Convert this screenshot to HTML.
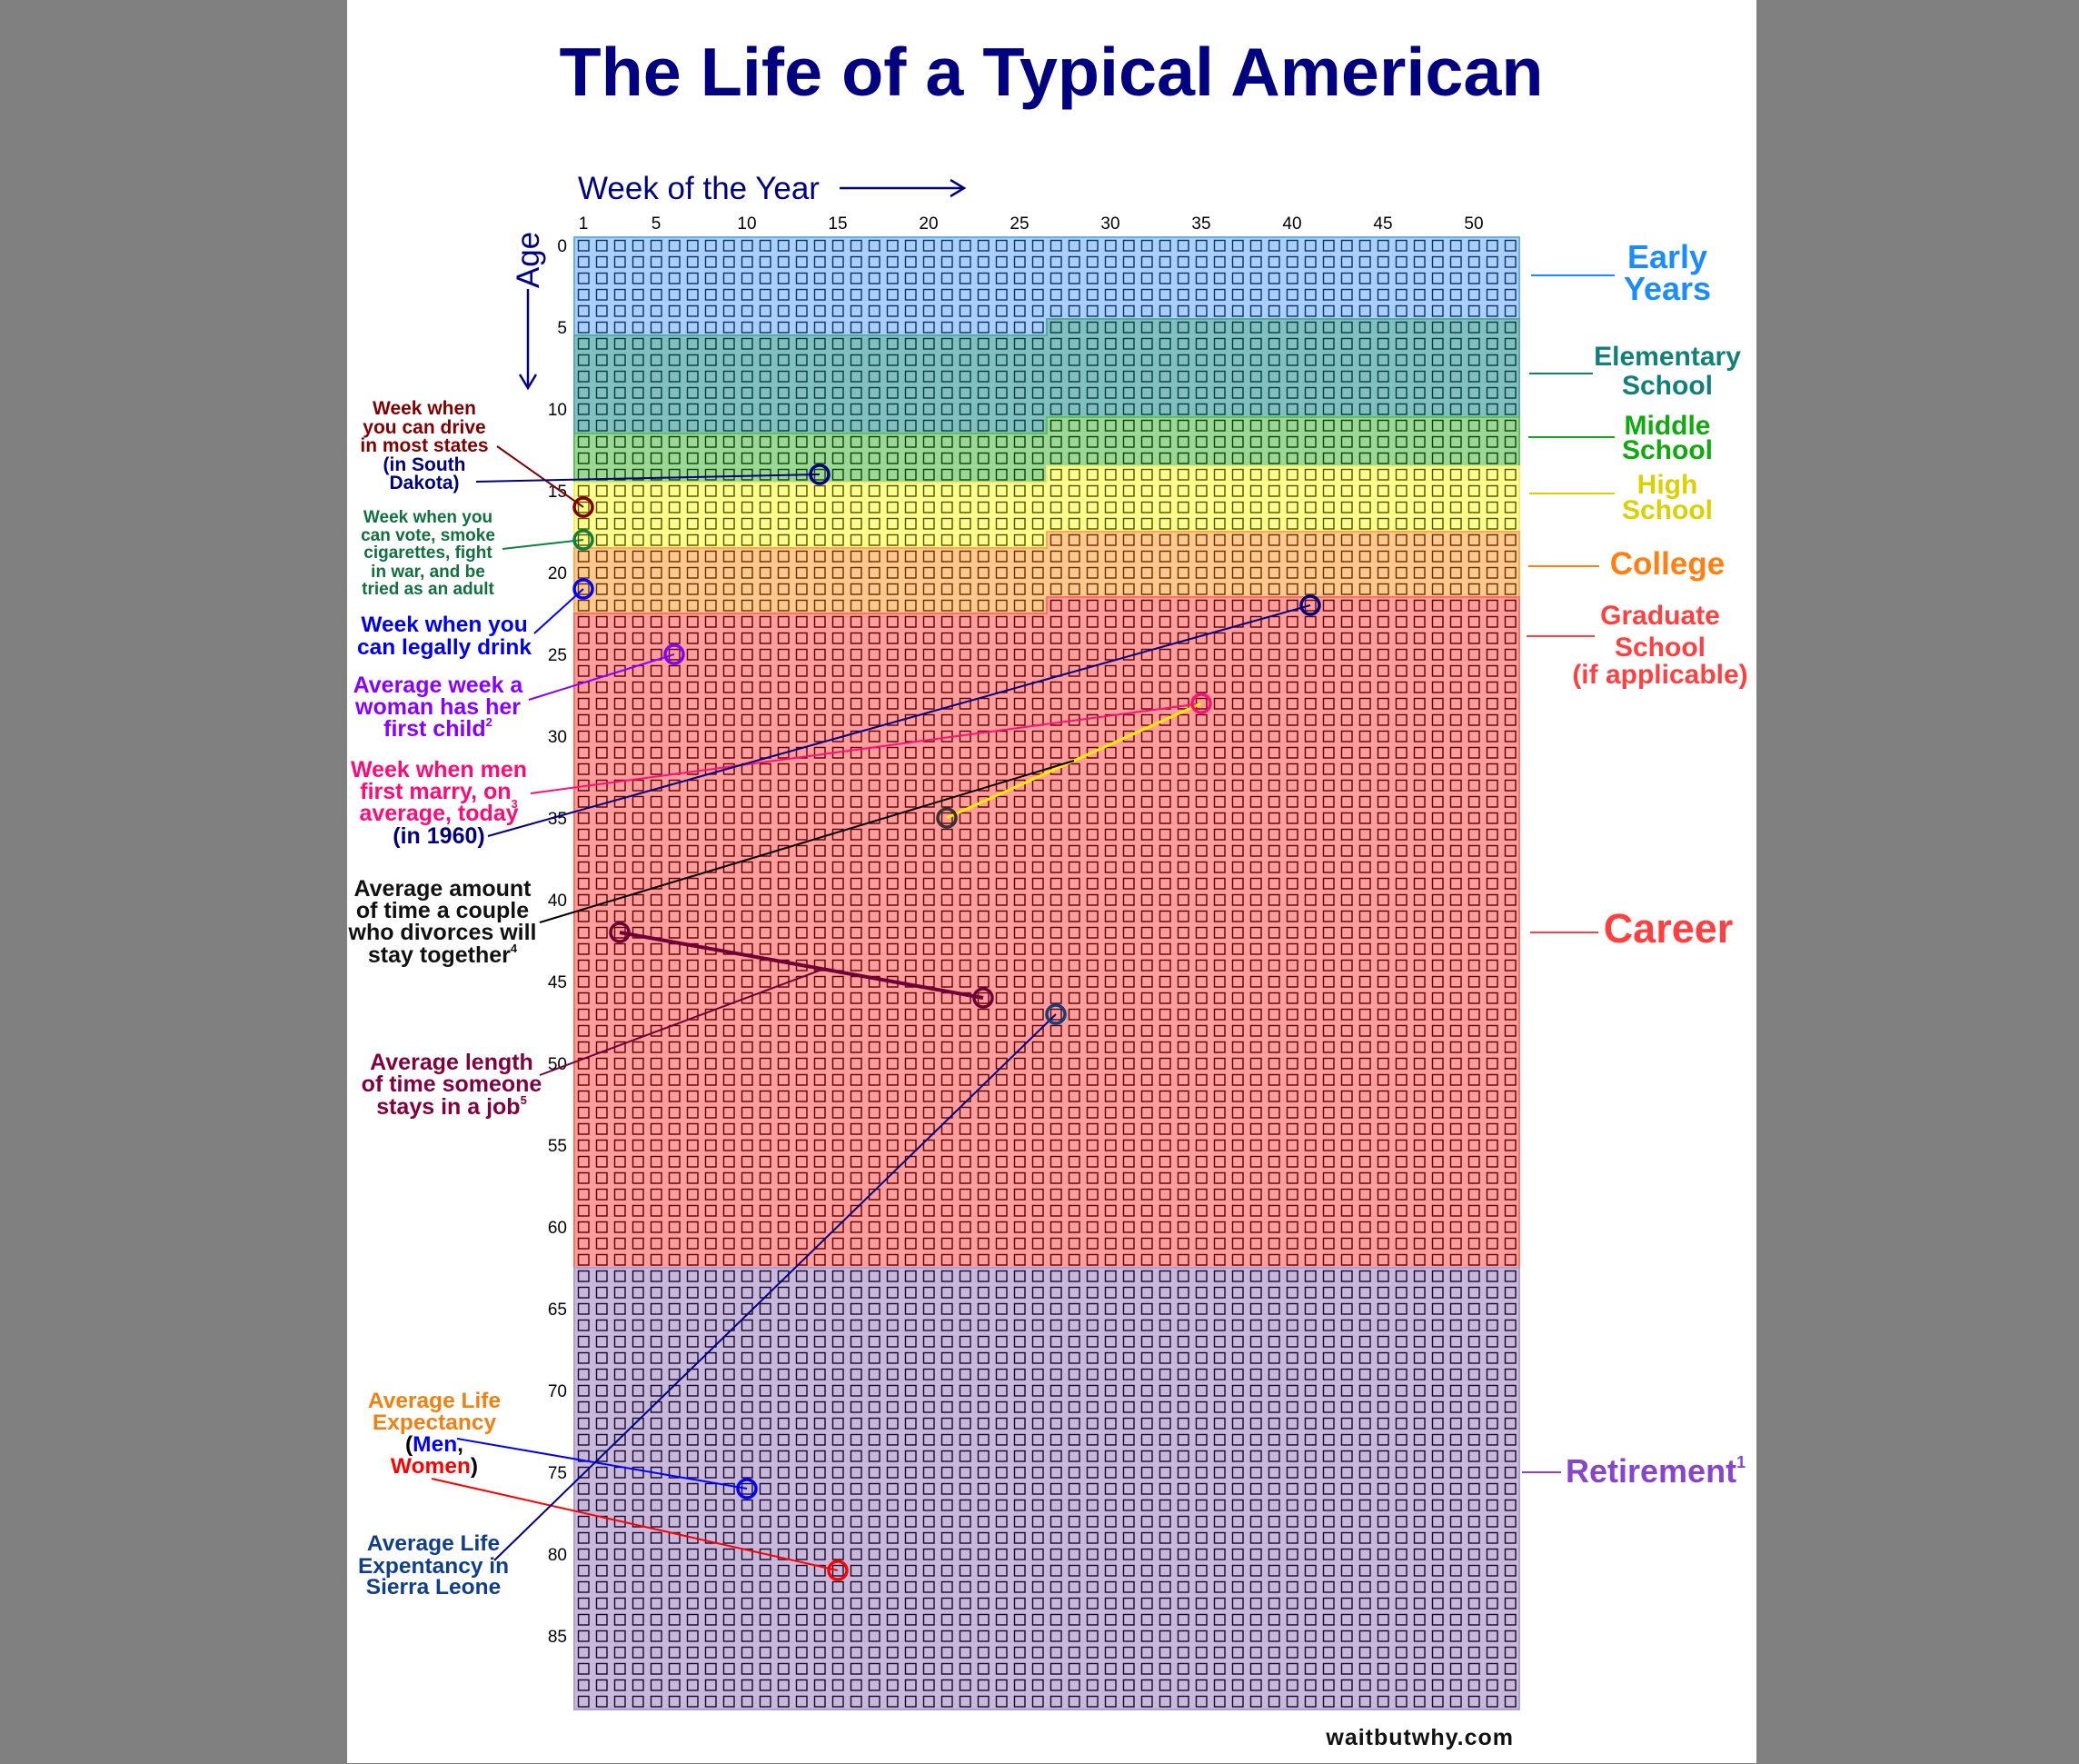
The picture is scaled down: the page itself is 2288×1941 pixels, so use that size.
<!DOCTYPE html>
<html><head><meta charset="utf-8"><style>
html,body{margin:0;padding:0;background:#808080;}
svg{display:block;font-family:"Liberation Sans",sans-serif;}
.b{font-weight:bold;}
</style></head><body>
<svg id="chart" width="2288" height="1941" viewBox="0 0 2288 1941" xmlns="http://www.w3.org/2000/svg">
<rect x="0" y="0" width="2288" height="1941" fill="#808080"/>
<rect x="382" y="0" width="1551" height="1940" fill="#ffffff"/>
<text x="1157" y="105" text-anchor="middle" class="b" font-size="75" fill="#000080" textLength="1083" lengthAdjust="spacingAndGlyphs">The Life of a Typical American</text>
<text x="636" y="219" font-size="35" fill="#000080">Week of the Year</text>
<g stroke="#000080" stroke-width="2.5" fill="none"><line x1="924" y1="207" x2="1060" y2="207"/><polyline points="1046,198 1061,207 1046,216"/></g>
<text transform="translate(593,286) rotate(-90)" text-anchor="middle" font-size="35" fill="#000080">Age</text>
<g stroke="#000080" stroke-width="2.5" fill="none"><line x1="581" y1="318" x2="581" y2="426"/><polyline points="572,412 581,427 590,412"/></g>
<defs id="defs"></defs>
<g id="bands"></g>
<g id="ticks"></g>
<g id="annot-lines" fill="none"></g>
<g id="markers" fill="none" stroke-width="3.5"></g>
<g id="labels" class="b">
 <g font-size="21" text-anchor="middle" fill="#800000">
  <text x="467" y="456">Week when</text><text x="467" y="477">you can drive</text><text x="467" y="497">in most states</text>
  <text x="467" y="518" fill="#000080">(in South</text><text x="467" y="538" fill="#000080">Dakota)</text></g>
 <g font-size="19" text-anchor="middle" fill="#107040">
  <text x="471" y="575">Week when you</text><text x="471" y="595">can vote, smoke</text><text x="471" y="614">cigarettes, fight</text><text x="471" y="635">in war, and be</text><text x="471" y="654">tried as an adult</text></g>
 <g font-size="24.5" text-anchor="middle" fill="#0000ee">
  <text x="489" y="695">Week when you</text><text x="489" y="720">can legally drink</text></g>
 <g font-size="25" text-anchor="middle" fill="#8800ff">
  <text x="482" y="762">Average week a</text><text x="482" y="786">woman has her</text><text x="482" y="810">first child<tspan font-size="13" dy="-11">2</tspan></text></g>
 <g font-size="25" text-anchor="middle" fill="#ff0a78">
  <text x="483" y="855">Week when men</text><text x="483" y="879">first marry, on<tspan font-size="13" dy="10">3</tspan></text><text x="483" y="903">average, today</text>
  <text x="483" y="928" fill="#000080">(in 1960)</text></g>
 <g font-size="25" text-anchor="middle" fill="#111">
  <text x="487" y="986">Average amount</text><text x="487" y="1010">of time a couple</text><text x="487" y="1034">who divorces will</text><text x="487" y="1059">stay together<tspan font-size="13" dy="-11">4</tspan></text></g>
 <g font-size="25" text-anchor="middle" fill="#800040">
  <text x="497" y="1177">Average length</text><text x="497" y="1201">of time someone</text><text x="497" y="1226">stays in a job<tspan font-size="13" dy="-11">5</tspan></text></g>
 <g font-size="24.5" text-anchor="middle" fill="#f08010">
  <text x="478" y="1549">Average Life</text><text x="478" y="1573">Expectancy</text>
  <text x="478" y="1597" fill="#000">(<tspan fill="#0000ff">Men</tspan>,</text>
  <text x="478" y="1621" fill="#000"><tspan fill="#ff0000">Women</tspan>)</text></g>
 <g font-size="24.5" text-anchor="middle" fill="#0f3f8a">
  <text x="477" y="1706">Average Life</text><text x="477" y="1731">Expentancy in</text><text x="477" y="1754">Sierra Leone</text></g>
 <g text-anchor="middle">
  <text x="1835" y="295" font-size="36" fill="#1a8cff">Early</text><text x="1835" y="330" font-size="36" fill="#1a8cff">Years</text>
  <text x="1835" y="402" font-size="30" fill="#108078">Elementary</text><text x="1835" y="434" font-size="30" fill="#108078">School</text>
  <text x="1835" y="478" font-size="30" fill="#10aa10">Middle</text><text x="1835" y="505" font-size="30" fill="#10aa10">School</text>
  <text x="1835" y="543" font-size="30" fill="#dcd000">High</text><text x="1835" y="571" font-size="30" fill="#dcd000">School</text>
  <text x="1835" y="632" font-size="35" fill="#ff8010">College</text>
  <text x="1827" y="687" font-size="30" fill="#ff4040">Graduate</text><text x="1827" y="722" font-size="30" fill="#ff4040">School</text><text x="1827" y="752" font-size="30" fill="#ff4040">(if applicable)</text>
  <text x="1836" y="1037" font-size="45" fill="#ff4040">Career</text>
  <text x="1723" y="1631" font-size="36" fill="#8844cc" text-anchor="start">Retirement<tspan font-size="18" dy="-16">1</tspan></text>
 </g>
 <g stroke-width="2">
  <line x1="1685" y1="303" x2="1777" y2="303" stroke="#1a8cff"/>
  <line x1="1683" y1="411" x2="1753" y2="411" stroke="#108078"/>
  <line x1="1682" y1="481" x2="1777" y2="481" stroke="#10aa10"/>
  <line x1="1683" y1="543" x2="1777" y2="543" stroke="#dcd000"/>
  <line x1="1682" y1="623" x2="1760" y2="623" stroke="#ff8010"/>
  <line x1="1680" y1="700" x2="1755" y2="700" stroke="#ff4040"/>
  <line x1="1684" y1="1026" x2="1759" y2="1026" stroke="#ff4040"/>
  <line x1="1675" y1="1620" x2="1718" y2="1620" stroke="#8844cc"/>
 </g>
 <text x="1666" y="1920" text-anchor="end" font-size="25" fill="#111" letter-spacing="1">waitbutwhy.com</text>
</g>
</svg>
<script>
// grid data
const bandNames = ['early-years','elementary-school','middle-school','high-school','college','career','retirement'];
const bandLeftStart = [0,6,12,15,19,23,63];   // weeks 1-26
const bandLeftEnd   = [5,11,14,18,22,62,89];
const bandRightStart= [0,5,11,14,18,22,63];   // weeks 27-52
const bandRightEnd  = [4,10,13,17,21,62,89];
const bandFill  = ['#a8d0ff','#80c0c0','#9cd894','#ffff8c','#ffc88c','#ff9c9c','#c8b8dc'];
const bandStroke= ['#10305a','#083a3a','#0a400a','#505000','#603000','#5a0000','#180828'];
const bandEdge  = ['#6ab0d8','#5aa8a8','#60c060','#f0f070','#ffaa50','#ff7060','#b0a0d0'];
const weekTicks = [1,5,10,15,20,25,30,35,40,45,50];
const ageTicks = [0,5,10,15,20,25,30,35,40,45,50,55,60,65,70,75,80,85];
const nWeeks = 52, nYears = 90, splitWeek = 27;

// markers
const markerNames = ['drive-marker','south-dakota-marker','vote-marker','drink-marker','first-child-marker','marry-today-marker','marry-1960-marker','divorce-start-marker','job-start-marker','job-end-marker','life-men-marker','life-women-marker','sierra-leone-marker'];
const markerWeek = [1,14,1,1,6,35,41,21,3,23,10,15,27];
const markerAge  = [16,14,18,21,25,28,22,35,42,46,76,81,47];
const markerColor= ['#800000','#000080','#108040','#0000ff','#8800ff','#ff1078','#000080','#333333','#700038','#700038','#0000ff','#ff0000','#104080'];

const NS='http://www.w3.org/2000/svg';
const gx0=632, gy0=261, cw=20, rh=18;
function xLeft(week){return gx0+(week-1)*cw;}
function xOf(week){return xLeft(week)+cw/2;}
function yTop(age){return gy0+age*rh;}
function yOf(age){return yTop(age)+rh/2;}
function mk(tag,attrs,parent){const e=document.createElementNS(NS,tag);for(const k in attrs)e.setAttribute(k,attrs[k]);parent.appendChild(e);return e;}

const defs=document.getElementById('defs');
const bands=document.getElementById('bands');
bandNames.forEach((n,i)=>{
  const p=mk('pattern',{id:'pat'+i,patternUnits:'userSpaceOnUse',x:gx0,y:gy0,width:cw,height:rh},defs);
  mk('rect',{x:0,y:0,width:cw,height:rh,fill:bandFill[i]},p);
  mk('rect',{x:4.5,y:3.5,width:11.5,height:11.5,fill:'none',stroke:bandStroke[i],'stroke-width':1.4},p);
  const g=mk('g',{},bands);
  
  
  const xl=xLeft(1), xm=xLeft(splitWeek), xr=xLeft(nWeeks+1);
  const yl0=yTop(bandLeftStart[i]), yl1=yTop(bandLeftEnd[i]+1);
  const yr0=yTop(bandRightStart[i]), yr1=yTop(bandRightEnd[i]+1);
  const pts=`${xl},${yl0} ${xm},${yl0} ${xm},${yr0} ${xr},${yr0} ${xr},${yr1} ${xm},${yr1} ${xm},${yl1} ${xl},${yl1}`;
  mk('polygon',{points:pts,fill:'url(#pat'+i+')',stroke:bandEdge[i],'stroke-width':2},g);
});
const ticks=document.getElementById('ticks');
weekTicks.forEach(w=>{
  const t=mk('text',{x:xOf(w),y:252,'text-anchor':'middle','font-size':19,fill:'#000'},ticks);
  
  
  t.textContent=w;
});
ageTicks.forEach(a=>{
  const t=mk('text',{x:624,y:yOf(a)+7,'text-anchor':'end','font-size':19,fill:'#000'},ticks);
  
  
  t.textContent=a;
});
function mp(i){return [xOf(markerWeek[i]),yOf(markerAge[i])];}
const lines=document.getElementById('annot-lines');
function L(name,x1,y1,p,color,w){
  const l=mk('line',{x1:x1,y1:y1,x2:p[0],y2:p[1],stroke:color,'stroke-width':w||2},lines);
  
  
}
function lerp(a,b,t){return [a[0]+(b[0]-a[0])*t,a[1]+(b[1]-a[1])*t];}
L('drive-leader',547,491,mp(0),'#800000');
L('south-dakota-leader',524,530,mp(1),'#000080');
L('vote-leader',553,604,mp(2),'#108040');
L('drink-leader',588,697,mp(3),'#0000ff');
L('first-child-leader',582,770,mp(4),'#8800ff');
L('marry-today-leader',584,873,mp(5),'#ff1078');
L('marry-1960-leader',537,920,mp(6),'#000080');
{const a=mp(7),b=mp(5);const l=mk('line',{x1:a[0],y1:a[1],x2:b[0],y2:b[1],stroke:'#ffee00','stroke-width':3},lines);
  
 L('divorce-leader',594,1015,lerp(a,b,0.5),'#000');}
{const a=mp(8),b=mp(9);const l=mk('line',{x1:a[0],y1:a[1],x2:b[0],y2:b[1],stroke:'#700038','stroke-width':4},lines);
  
 L('job-leader',594,1183,lerp(a,b,0.56),'#700038');}
L('life-men-leader',503,1583,mp(10),'#0000ff');
L('life-women-leader',475,1627,mp(11),'#ff0000');
L('sierra-leone-leader',544,1717,mp(12),'#000080');
const markers=document.getElementById('markers');
markerNames.forEach((n,i)=>{
  const c=mk('circle',{cx:xOf(markerWeek[i]),cy:yOf(markerAge[i]),r:10,stroke:markerColor[i]},markers);
  
  
});
</script>
</body></html>
